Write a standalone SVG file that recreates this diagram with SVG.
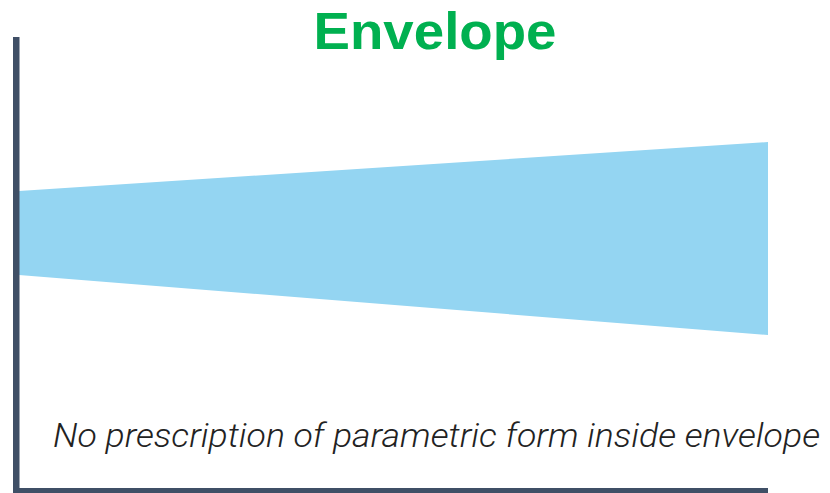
<svg xmlns="http://www.w3.org/2000/svg" width="830" height="493" viewBox="0 0 830 493">
<style>
.axis{fill:#3f4f66}
.band{fill:#94d5f2}
.title{font-family:"Liberation Sans",Arial,sans-serif;font-weight:bold;fill:#00b050;font-size:52px}
.note{font-family:Roboto,"Liberation Sans",Arial,sans-serif;font-style:italic;font-weight:300;fill:#222;font-size:33px}
</style>
<rect width="830" height="493" fill="#fff"/>
<g id="envelope">
<polygon class="band" points="19,191 768,142 768,335 19,275"/>
</g>
<g id="axes">
<rect class="axis" x="13" y="37" width="6.5" height="456"/>
<rect class="axis" x="13" y="488" width="755" height="6"/>
</g>
<text id="title" class="title" x="313.5" y="49" textLength="243" lengthAdjust="spacingAndGlyphs">Envelope</text>
<text id="caption" class="note" x="53" y="446.5" textLength="767" lengthAdjust="spacingAndGlyphs">No prescription of parametric form inside envelope</text>
</svg>
